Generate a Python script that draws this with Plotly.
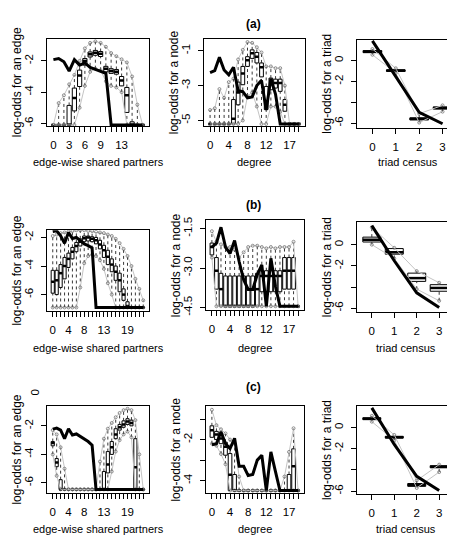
import plotly.graph_objects as go

W, H = 455, 539
FONT = "Liberation Sans"

# ---------------- row (a) ----------------
a_esp_x = list(range(18))
a_esp_obs = [-1.92, -1.85, -2.06, -2.65, -1.92, -2.27, -2.13, -2.42, -2.55, -2.65, -2.8,
             -6.1, -6.1, -6.1, -6.1, -6.1, -6.1, -6.1]
a_esp_q1 = [-6.1, -6.1, -6.1, -6.1, -5.2, -3.64, -2.27, -1.75, -1.64, -1.72, -2.7, -2.8,
            -2.85, -3.6, -5.3, -6.1, -6.1, -6.1]
a_esp_med = [-6.1, -6.1, -6.1, -6.1, -4.37, -2.94, -2.0, -1.58, -1.48, -1.55, -2.5, -2.65,
             -2.7, -3.25, -4.2, -6.1, -6.1, -6.1]
a_esp_q3 = [-6.1, -6.1, -6.1, -4.85, -3.74, -2.59, -1.85, -1.43, -1.33, -1.40, -2.35, -2.5,
            -2.55, -3.0, -3.7, -5.9, -6.1, -6.1]
a_esp_hi = [-6.1, -4.7, -4.2, -3.5, -2.9, -2.0, -1.2, -0.85, -0.75, -0.85, -1.1, -1.5,
            -1.7, -1.9, -2.1, -3.0, -4.8, -6.1]
a_esp_lo = [-6.1, -6.1, -6.1, -6.1, -6.1, -5.0, -3.6, -2.7, -2.5, -2.6, -3.3, -3.6,
            -3.7, -4.0, -6.1, -6.1, -6.1, -6.1]

a_deg_x = list(range(20))
a_deg_obs = [-2.25, -2.14, -1.38, -2.1, -2.38, -1.95, -3.3, -3.35, -3.7, -3.65, -3.0, -2.7,
             -4.4, -2.6, -3.5, -5.2, -5.2, -5.2, -5.2, -5.2]
a_deg_q1 = [-5.2, -5.2, -5.2, -5.2, -5.2, -5.2, -4.1, -2.95, -1.9, -1.44, -1.7, -2.5,
            -4.37, -3.24, -3.14, -3.33, -4.47, -5.2, -5.2, -5.2]
a_deg_med = [-5.2, -5.2, -5.2, -5.2, -5.2, -4.9, -3.4, -2.3, -1.55, -1.15, -1.35, -1.95,
             -3.9, -2.75, -2.85, -2.85, -4.1, -5.2, -5.2, -5.2]
a_deg_q3 = [-5.2, -5.2, -5.2, -5.2, -5.2, -3.8, -2.8, -1.9, -1.34, -0.95, -1.1, -1.7,
            -3.05, -2.57, -2.63, -2.63, -3.8, -5.2, -5.2, -5.2]
a_deg_hi = [-4.4, -4.3, -3.2, -3.7, -2.8, -2.6, -1.5, -0.95, -0.5, -0.55, -0.8, -1.1,
            -1.9, -1.9, -2.0, -2.0, -3.0, -5.2, -5.2, -5.2]
a_deg_lo = [-5.2, -5.2, -5.2, -5.2, -5.2, -5.2, -5.2, -5.0, -3.6, -3.4, -4.2, -5.2,
            -5.2, -4.2, -4.2, -4.5, -5.2, -5.2, -5.2, -5.2]

a_tri_x = [0, 1, 2, 3]
a_tri_obs = [1.88, -1.5, -4.96, -6.06]
a_tri_q1 = [0.75, -1.05, -5.7, -4.65]
a_tri_med = [0.85, -0.97, -5.59, -4.56]
a_tri_q3 = [0.95, -0.9, -5.5, -4.45]
a_tri_hi = [1.1, -0.75, -5.1, -4.3]
a_tri_lo = [0.55, -1.2, -5.95, -4.9]

# ---------------- row (b) ----------------
b_esp_x = list(range(24))
b_esp_obs = [-1.59, -1.54, -1.89, -2.41, -1.66, -2.07, -2.0, -2.23, -2.46, -2.57, -2.73,
             -6.9, -6.9, -6.9, -6.9, -6.9, -6.9, -6.9, -6.9, -6.9, -6.9, -6.9, -6.9, -6.9]
b_esp_q1 = [-5.9, -6.0, -5.5, -4.9, -4.1, -3.5, -3.0, -2.6, -2.3, -2.25, -2.3, -2.45,
            -2.8, -3.4, -3.9, -4.4, -5.0, -5.8, -6.4, -6.9, -6.9, -6.9, -6.9, -6.9]
b_esp_med = [-5.1, -5.0, -4.5, -4.0, -3.5, -3.0, -2.6, -2.3, -2.05, -2.0, -2.1, -2.2,
             -2.5, -2.9, -3.35, -3.9, -4.4, -5.0, -6.0, -6.8, -6.9, -6.9, -6.9, -6.9]
b_esp_q3 = [-4.3, -4.3, -3.9, -3.4, -3.1, -2.7, -2.35, -2.1, -1.9, -1.9, -1.95, -2.0,
            -2.2, -2.55, -2.9, -3.5, -4.0, -4.5, -5.6, -6.5, -6.9, -6.9, -6.9, -6.9]
b_esp_hi = [-1.9, -1.8, -1.7, -1.65, -1.6, -1.55, -1.5, -1.5, -1.5, -1.55, -1.55, -1.6,
            -1.65, -1.7, -1.8, -1.9, -2.1, -2.4, -2.8, -3.3, -4.0, -4.9, -5.6, -6.4]
b_esp_lo = [-6.9, -6.9, -6.9, -6.9, -6.9, -6.9, -6.9, -5.5, -3.8, -3.3, -3.2, -3.3,
            -3.6, -4.2, -5.2, -6.0, -6.9, -6.9, -6.9, -6.9, -6.9, -6.9, -6.9, -6.9]

b_deg_x = list(range(20))
b_deg_obs = [-2.2, -2.05, -1.45, -2.2, -2.45, -1.95, -2.75, -3.44, -3.81, -3.81, -3.25,
             -2.88, -4.45, -2.63, -3.69, -4.45, -4.45, -4.45, -4.45, -4.45]
b_deg_q1 = [-2.5, -3.8, -4.45, -4.45, -4.45, -4.45, -4.45, -4.45, -4.45, -4.45, -4.45,
            -3.9, -3.9, -3.9, -3.9, -3.9, -3.8, -3.8, -3.8, -4.45]
b_deg_med = [-2.2, -3.1, -3.8, -4.45, -4.45, -4.45, -4.45, -4.45, -4.45, -4.45, -3.8,
             -3.3, -3.3, -3.3, -3.3, -3.3, -3.1, -3.1, -3.1, -4.45]
b_deg_q3 = [-2.05, -2.6, -3.2, -3.3, -3.3, -3.3, -3.3, -3.3, -3.3, -3.3, -3.2,
            -3.1, -3.1, -3.1, -3.1, -3.1, -2.6, -2.6, -2.6, -4.45]
b_deg_hi = [-1.6, -2.0, -2.1, -2.2, -2.2, -2.3, -2.6, -2.4, -2.2, -2.15, -2.15, -2.2,
            -2.25, -2.2, -2.25, -2.2, -2.2, -2.2, -2.0, -4.45]
b_deg_lo = [-2.6, -4.45, -4.45, -4.45, -4.45, -4.45, -4.45, -4.45, -4.45, -4.45, -4.45,
            -4.45, -4.45, -4.45, -4.45, -4.45, -4.45, -4.45, -4.45, -4.45]

b_tri_x = [0, 1, 2, 3]
b_tri_obs = [1.8, -1.52, -4.55, -5.94]
b_tri_q1 = [0.25, -0.9, -3.47, -4.4]
b_tri_med = [0.46, -0.71, -3.16, -4.09]
b_tri_q3 = [0.71, -0.37, -2.69, -3.78]
b_tri_hi = [1.64, -0.3, -2.5, -3.6]
b_tri_lo = [0.0, -1.3, -4.2, -5.3]

# ---------------- row (c) ----------------
c_esp_x = list(range(24))
c_esp_obs = [-2.23, -2.16, -2.3, -2.9, -2.2, -2.64, -2.57, -2.75, -2.9, -3.1, -3.35,
             -6.45, -6.45, -6.45, -6.45, -6.45, -6.45, -6.45, -6.45, -6.45, -6.45, -6.45,
             -6.45, -6.45]
c_esp_q1 = [-3.4, -4.86, -6.45, -6.45, -6.45, -6.45, -6.45, -6.45, -6.45, -6.45, -6.45,
            -6.45, -6.45, -6.45, -5.3, -4.0, -2.9, -2.3, -2.1, -1.9, -2.0, -6.45, -6.45, -6.45]
c_esp_med = [-3.2, -4.56, -6.45, -6.45, -6.45, -6.45, -6.45, -6.45, -6.45, -6.45, -6.45,
             -6.45, -6.45, -6.45, -4.7, -3.5, -2.6, -2.1, -1.9, -1.7, -1.8, -4.9, -6.45, -6.45]
c_esp_q3 = [-3.1, -4.29, -5.77, -6.45, -6.45, -6.45, -6.45, -6.45, -6.45, -6.45, -6.45,
            -6.45, -6.45, -5.2, -3.8, -3.1, -2.2, -1.9, -1.65, -1.5, -1.6, -2.9, -6.45, -6.45]
c_esp_hi = [-2.3, -2.6, -3.5, -5.0, -6.45, -6.45, -6.45, -6.45, -6.45, -6.45, -6.45,
            -6.45, -4.5, -2.9, -2.2, -1.8, -1.4, -1.1, -0.9, -0.8, -0.9, -1.6, -4.0, -6.45]
c_esp_lo = [-4.0, -5.5, -6.45, -6.45, -6.45, -6.45, -6.45, -6.45, -6.45, -6.45, -6.45,
            -6.45, -6.45, -6.45, -6.45, -5.2, -3.8, -3.0, -2.6, -2.4, -2.8, -6.45, -6.45, -6.45]

c_deg_x = list(range(20))
c_deg_obs = [-2.25, -2.2, -1.62, -2.2, -2.44, -1.94, -3.3, -3.3, -3.75, -3.7, -3.0, -2.76,
             -4.48, -2.6, -3.55, -4.48, -4.48, -4.48, -4.48, -4.48]
c_deg_q1 = [-1.89, -2.0, -2.2, -2.76, -4.48, -4.48, -4.48, -4.48, -4.48, -4.48, -4.48,
            -4.48, -4.48, -4.48, -4.48, -4.48, -4.48, -4.48, -4.48, -4.48]
c_deg_med = [-1.55, -1.75, -1.95, -2.35, -3.71, -4.48, -4.48, -4.48, -4.48, -4.48, -4.48,
             -4.48, -4.48, -4.48, -4.48, -4.48, -4.48, -4.48, -3.3, -4.48]
c_deg_q3 = [-1.33, -1.6, -1.75, -2.13, -2.68, -3.7, -4.48, -4.48, -4.48, -4.48, -4.48,
            -4.48, -4.48, -4.48, -4.48, -4.48, -4.48, -3.7, -2.45, -4.48]
c_deg_hi = [-0.55, -1.3, -1.5, -1.7, -2.0, -2.2, -3.8, -4.48, -4.48, -4.48, -4.48,
            -4.48, -4.48, -4.48, -4.48, -4.48, -3.8, -2.6, -1.45, -4.48]
c_deg_lo = [-2.2, -2.3, -2.7, -3.2, -4.48, -4.48, -4.48, -4.48, -4.48, -4.48, -4.48,
            -4.48, -4.48, -4.48, -4.48, -4.48, -4.48, -4.48, -4.48, -4.48]

c_tri_x = [0, 1, 2, 3]
c_tri_obs = [1.85, -1.6, -4.6, -5.94]
c_tri_q1 = [0.74, -1.0, -5.55, -3.8]
c_tri_med = [0.83, -0.92, -5.4, -3.7]
c_tri_q3 = [0.92, -0.83, -5.28, -3.6]
c_tri_hi = [1.1, -0.7, -5.0, -3.5]
c_tri_lo = [0.55, -1.2, -5.7, -4.2]

# tick labels shown
esp_a_labels = [0, 3, 6, 9, 13]
esp_bc_labels = [0, 4, 8, 13, 19]
deg_labels = [0, 4, 8, 12, 17]
tri_labels = [0, 1, 2, 3]

row_titles = ["(a)", "(b)", "(c)"]
y_titles = ["log-odds for an edge", "log-odds for a node", "log-odds for a triad"]
x_titles = ["edge-wise shared partners", "degree", "triad census"]

# ---------------- layout geometry (pixels) ----------------
panels = [
    (a_esp_x, a_esp_q1, a_esp_med, a_esp_q3, a_esp_lo, a_esp_hi, a_esp_obs,
     (39, 141, 28, 117), [-6.17, -0.57], [-6, -4, -2], ["-6", "-4", "-2"], esp_a_labels),
    (a_deg_x, a_deg_q1, a_deg_med, a_deg_q3, a_deg_lo, a_deg_hi, a_deg_obs,
     (196, 297, 28, 117), [-5.32, -0.3], [-5, -3, -1], ["-5", "-3", "-1"], deg_labels),
    (a_tri_x, a_tri_q1, a_tri_med, a_tri_q3, a_tri_lo, a_tri_hi, a_tri_obs,
     (349, 450, 29, 119), [-6.47, 2.01], [-6, -4, -2, 0], ["-6", "", "-2", "0"], tri_labels),
    (b_esp_x, b_esp_q1, b_esp_med, b_esp_q3, b_esp_lo, b_esp_hi, b_esp_obs,
     (39, 141, 223, 305), [-7.14, -1.5], [-6, -4, -2], ["-6", "-4", "-2"], esp_bc_labels),
    (b_deg_x, b_deg_q1, b_deg_med, b_deg_q3, b_deg_lo, b_deg_hi, b_deg_obs,
     (198, 296, 213, 304), [-4.59, -1.19], [-4.5, -3.0, -1.5], ["-4.5", "-3.0", "-1.5"], deg_labels),
    (b_tri_x, b_tri_q1, b_tri_med, b_tri_q3, b_tri_lo, b_tri_hi, b_tri_obs,
     (349, 446, 215, 306), [-6.35, 2.1], [-6, -4, -2, 0], ["-6", "", "-2", "0"], tri_labels),
    (c_esp_x, c_esp_q1, c_esp_med, c_esp_q3, c_esp_lo, c_esp_hi, c_esp_obs,
     (39, 141, 402, 490), [-6.69, -0.63], [-6, -4, -2], ["-6", "-4", "-2"], esp_bc_labels),
    (c_deg_x, c_deg_q1, c_deg_med, c_deg_q3, c_deg_lo, c_deg_hi, c_deg_obs,
     (198, 296, 402, 490), [-4.59, -0.38], [-4, -3, -2, -1], ["-4", "", "-2", ""], deg_labels),
    (c_tri_x, c_tri_q1, c_tri_med, c_tri_q3, c_tri_lo, c_tri_hi, c_tri_obs,
     (349, 446, 402, 491), [-6.25, 2.0], [-6, -4, -2, 0], ["-6", "", "-2", "0"], tri_labels),
]


def fx(p):
    return p / W


def fy(p):
    return 1 - p / H


fig = go.Figure()
layout = dict(width=W, height=H, margin=dict(l=0, r=0, t=0, b=0),
              paper_bgcolor="white", plot_bgcolor="white", showlegend=False,
              font=dict(family=FONT, size=11, color="black"))
annotations = []
BW = 0.4  # half box width (R boxwex 0.8)

for i, (cats, q1, med, q3, lo, hi, obs, fr, yr, ytv, ytt, xl) in enumerate(panels):
    n = i + 1
    xa = "x" if n == 1 else f"x{n}"
    ya = "y" if n == 1 else f"y{n}"
    nc = len(cats)
    ext = 0.04 * nc
    x0, x1, y0, y1 = fr
    layout["xaxis" if n == 1 else f"xaxis{n}"] = dict(
        domain=[fx(x0), fx(x1)], range=[-0.5 - ext, nc - 0.5 + ext], anchor=ya,
        tickmode="array", tickvals=cats,
        ticktext=[str(c) if c in xl else "" for c in cats],
        ticks="outside", ticklen=5, tickwidth=1, tickcolor="black",
        ticklabelstandoff=3,
        showline=True, mirror=True, linecolor="black", linewidth=1,
        showgrid=False, zeroline=False, tickfont=dict(size=11.5, family=FONT))
    layout["yaxis" if n == 1 else f"yaxis{n}"] = dict(
        domain=[fy(y1), fy(y0)], range=yr, anchor=xa,
        tickmode="array", tickvals=ytv, ticktext=ytt, tickangle=-90,
        ticks="outside", ticklen=5, tickwidth=1, tickcolor="black",
        ticklabelstandoff=3,
        showline=True, mirror=True, linecolor="black", linewidth=1,
        showgrid=False, zeroline=False, tickfont=dict(size=11.5, family=FONT))

    # boxes (no whiskers)
    fig.add_trace(go.Box(x=cats, q1=q1, median=med, q3=q3, lowerfence=q1, upperfence=q3,
                         width=2 * BW, fillcolor="white", whiskerwidth=0,
                         line=dict(color="black", width=1), boxpoints=False,
                         xaxis=xa, yaxis=ya, hoverinfo="skip"))
    # dashed whiskers
    wx, wy = [], []
    for c, a, b, c3, d in zip(cats, lo, q1, q3, hi):
        if a < b:
            wx += [c, c, None]
            wy += [a, b, None]
        if d > c3:
            wx += [c, c, None]
            wy += [c3, d, None]
    fig.add_trace(go.Scatter(x=wx, y=wy, mode="lines", xaxis=xa, yaxis=ya,
                             line=dict(color="#222222", width=0.9, dash="3px,3px"),
                             hoverinfo="skip"))
    # thick medians
    mx, my = [], []
    for c, m in zip(cats, med):
        mx += [c - BW, c + BW, None]
        my += [m, m, None]
    fig.add_trace(go.Scatter(x=mx, y=my, mode="lines", xaxis=xa, yaxis=ya,
                             line=dict(color="black", width=2.5), hoverinfo="skip"))
    # grey bound lines with small circles
    for bnd in (lo, hi):
        fig.add_trace(go.Scatter(x=cats, y=bnd, mode="lines+markers", xaxis=xa, yaxis=ya,
                                 line=dict(color="#c4c4c4", width=1),
                                 marker=dict(symbol="circle-open", size=3, color="#666666",
                                             line=dict(width=0.7)),
                                 cliponaxis=True, hoverinfo="skip"))
    # observed
    fig.add_trace(go.Scatter(x=cats, y=obs, mode="lines", xaxis=xa, yaxis=ya,
                             line=dict(color="black", width=3), hoverinfo="skip"))

    # axis titles
    col = i % 3
    row = i // 3
    annotations.append(dict(text=y_titles[col], xref="paper", yref="paper",
                            x=fx(x0 - 30), y=fy((y0 + y1) / 2), showarrow=False,
                            textangle=-90, font=dict(size=12, family=FONT),
                            xanchor="center", yanchor="middle"))
    xt_y = [154, 343, 527][row]
    annotations.append(dict(text=x_titles[col], xref="paper", yref="paper",
                            x=fx((x0 + x1) / 2), y=fy(xt_y), showarrow=False,
                            font=dict(size=11, family=FONT),
                            xanchor="center", yanchor="middle"))

for r, (t, ty) in enumerate(zip(row_titles, [13, 197, 382])):
    annotations.append(dict(text=f"<b>{t}</b>", xref="paper", yref="paper",
                            x=fx(245), y=fy(ty), showarrow=False,
                            font=dict(size=12, family=FONT),
                            xanchor="center", yanchor="middle"))

# stray "0" tick label above panel (c) edge plot
annotations.append(dict(text="0", xref="paper", yref="paper", x=fx(27), y=fy(388),
                        showarrow=False, textangle=-90, font=dict(size=11.5, family=FONT),
                        xanchor="center", yanchor="middle"))

layout["annotations"] = annotations
fig.update_layout(**layout)
fig.write_html("out.html")
